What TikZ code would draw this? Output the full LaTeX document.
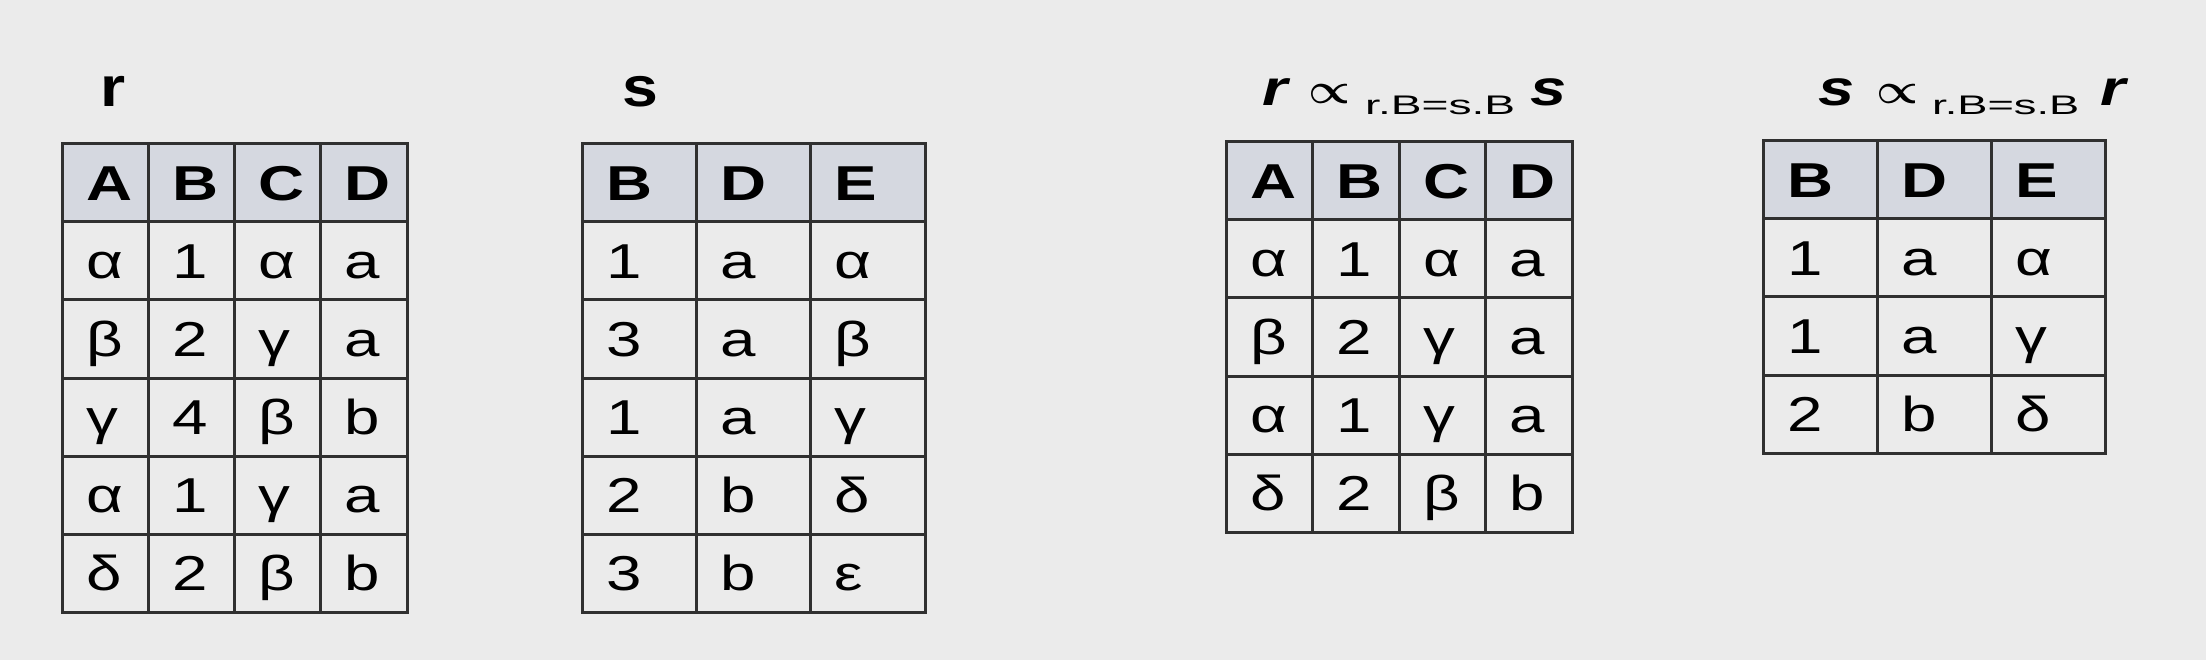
\documentclass[tikz,border=0pt]{standalone}
\usepackage{fontspec}
\setmainfont{Liberation Sans}
\definecolor{bg}{HTML}{EBEBEB}
\definecolor{hdr}{HTML}{D5D8E0}
\definecolor{gridc}{HTML}{303030}
\tikzset{
  cell/.style={anchor=base west, inner sep=0pt, font=\fontsize{49}{49}\selectfont},
  gridline/.style={draw=gridc, line width=3pt},
  lab/.style={inner sep=0pt},
}
\newcommand\xs[1]{\scalebox{1.3}[1]{#1}}
\newcommand\hd[1]{\bfseries #1}
% #1 name, #2 x-left, #3 col width, #4 baseline y, #5-#8 texts
\newcommand\rowfour[8]{%
  \node[cell] (#1a) at ({#2+24},#4) {\xs{#5}};
  \node[cell] (#1b) at ({#2+#3+24},#4) {\xs{#6}};
  \node[cell] (#1c) at ({#2+2*#3+24},#4) {\xs{#7}};
  \node[cell] (#1d) at ({#2+3*#3+24},#4) {\xs{#8}};}
\newcommand\rowthree[7]{%
  \node[cell] (#1a) at ({#2+24},#4) {\xs{#5}};
  \node[cell] (#1b) at ({#2+#3+24},#4) {\xs{#6}};
  \node[cell] (#1c) at ({#2+2*#3+24},#4) {\xs{#7}};}
% #1 x0, #2 col width, #3 ncols, #4 y0, #5 nrows (incl. header)
\newcommand\tablegrid[5]{%
  \fill[hdr] (#1,#4) rectangle ({#1+#3*#2},{#4+78});
  \foreach \i in {1,...,#5} \draw[gridline] (#1,{#4+78*\i}) -- ({#1+#3*#2},{#4+78*\i});
  \foreach \j in {1,...,#3} \draw[gridline] ({#1+#2*\j},#4) -- ({#1+#2*\j},{#4+78*#5});
  \draw[gridline, line join=miter] (#1,#4) rectangle ({#1+#3*#2},{#4+78*#5});}
\newcommand\semijoin{\resizebox{42pt}{19pt}{\boldmath$\propto$}}
\newcommand\cond[1]{\resizebox{#1}{18.5pt}{\fontsize{28}{28}\selectfont r.B=s.B}}
\newcommand\relname[1]{\scalebox{1.3}[1]{\fontsize{50}{50}\selectfont\bfseries\itshape #1}}
\begin{document}
\begin{tikzpicture}[x=1pt,y=-1pt]
\useasboundingbox (0,0) rectangle (2206,660);
\fill[bg] (0,0) rectangle (2206,660);

% ---------- table r ----------
\tablegrid{62}{86.25}{4}{144}{6}
\rowfour{rh}{62}{86.25}{200.5}{\hd{A}}{\hd{B}}{\hd{C}}{\hd{D}}
\rowfour{ra}{62}{86.25}{278.5}{α}{1}{α}{a}
\rowfour{rb}{62}{86.25}{356.5}{β}{2}{γ}{a}
\rowfour{rc}{62}{86.25}{434.5}{γ}{4}{β}{b}
\rowfour{rd}{62}{86.25}{512.5}{α}{1}{γ}{a}
\rowfour{re}{62}{86.25}{590.5}{δ}{2}{β}{b}
\node[lab, anchor=base] (labr) at (113,106.7) {\scalebox{1.15}[1]{\fontsize{56}{56}\selectfont\bfseries r}};

% ---------- table s ----------
\tablegrid{582}{114.33}{3}{144}{6}
\rowthree{sh}{582}{114.33}{200.5}{\hd{B}}{\hd{D}}{\hd{E}}
\rowthree{sa}{582}{114.33}{278.5}{1}{a}{α}
\rowthree{sb}{582}{114.33}{356.5}{3}{a}{β}
\rowthree{sc}{582}{114.33}{434.5}{1}{a}{γ}
\rowthree{sd}{582}{114.33}{512.5}{2}{b}{δ}
\rowthree{se}{582}{114.33}{590.5}{3}{b}{ε}
\node[lab, anchor=base] (labs) at (640,106.7) {\scalebox{1.15}[1]{\fontsize{56}{56}\selectfont\bfseries s}};

% ---------- r semijoin s ----------
\tablegrid{1226}{86.5}{4}{142}{5}
\rowfour{ph}{1226}{86.5}{198.5}{\hd{A}}{\hd{B}}{\hd{C}}{\hd{D}}
\rowfour{pa}{1226}{86.5}{276.5}{α}{1}{α}{a}
\rowfour{pb}{1226}{86.5}{354.5}{β}{2}{γ}{a}
\rowfour{pc}{1226}{86.5}{432.5}{α}{1}{γ}{a}
\rowfour{pd}{1226}{86.5}{510.5}{δ}{2}{β}{b}
\node[lab, anchor=base west] (p1) at (1262,106) {\relname{r}};
\node[lab, anchor=south west] (p2) at (1308,104) {\semijoin};
\node[lab, anchor=base west] (p3) at (1365,115) {\cond{150pt}};
\node[lab, anchor=base east] (p4) at (1567,106) {\relname{s}};

% ---------- s semijoin r ----------
\tablegrid{1763}{114}{3}{141}{4}
\rowthree{qh}{1763}{114}{197.5}{\hd{B}}{\hd{D}}{\hd{E}}
\rowthree{qa}{1763}{114}{275.5}{1}{a}{α}
\rowthree{qb}{1763}{114}{353.5}{1}{a}{γ}
\rowthree{qc}{1763}{114}{431.5}{2}{b}{δ}
\node[lab, anchor=base west] (q1) at (1818,106) {\relname{s}};
\node[lab, anchor=south west] (q2) at (1876,104) {\semijoin};
\node[lab, anchor=base west] (q3) at (1932,115) {\cond{147pt}};
\node[lab, anchor=base east] (q4) at (2126,106) {\relname{r}};
\end{tikzpicture}
\end{document}
